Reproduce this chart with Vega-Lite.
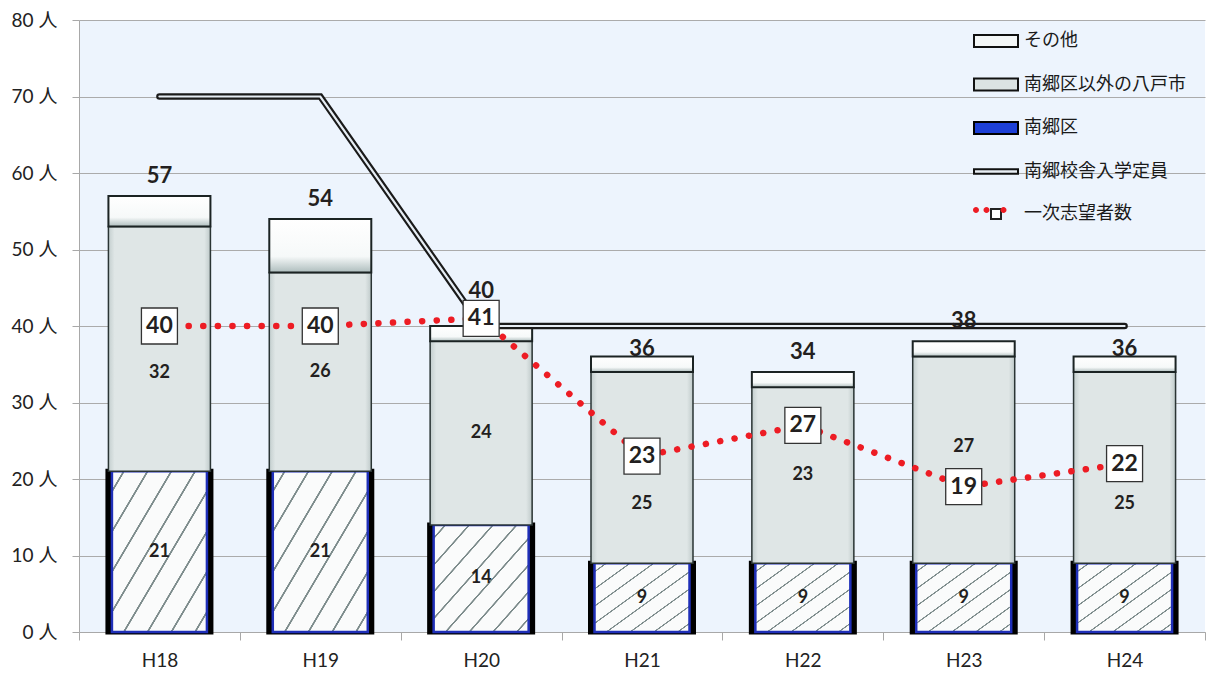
{
  "$schema": "https://vega.github.io/schema/vega-lite/v6.json",
  "width": 1126,
  "height": 612,
  "autosize": "none",
  "padding": {"left": 79, "top": 20, "right": 1, "bottom": 41},
  "background": "#ffffff",
  "config": {"view": {"fill": "#edf4fd", "stroke": null}, "font": "Lato", "text": {"font": "Lato"}},
  "datasets": {
    "seg": [
      {"year": "H18", "series": "南郷区", "k": 1, "value": 21},
      {"year": "H18", "series": "南郷区以外の八戸市", "k": 2, "value": 32},
      {"year": "H18", "series": "その他", "k": 3, "value": 4},
      {"year": "H19", "series": "南郷区", "k": 1, "value": 21},
      {"year": "H19", "series": "南郷区以外の八戸市", "k": 2, "value": 26},
      {"year": "H19", "series": "その他", "k": 3, "value": 7},
      {"year": "H20", "series": "南郷区", "k": 1, "value": 14},
      {"year": "H20", "series": "南郷区以外の八戸市", "k": 2, "value": 24},
      {"year": "H20", "series": "その他", "k": 3, "value": 2},
      {"year": "H21", "series": "南郷区", "k": 1, "value": 9},
      {"year": "H21", "series": "南郷区以外の八戸市", "k": 2, "value": 25},
      {"year": "H21", "series": "その他", "k": 3, "value": 2},
      {"year": "H22", "series": "南郷区", "k": 1, "value": 9},
      {"year": "H22", "series": "南郷区以外の八戸市", "k": 2, "value": 23},
      {"year": "H22", "series": "その他", "k": 3, "value": 2},
      {"year": "H23", "series": "南郷区", "k": 1, "value": 9},
      {"year": "H23", "series": "南郷区以外の八戸市", "k": 2, "value": 27},
      {"year": "H23", "series": "その他", "k": 3, "value": 2},
      {"year": "H24", "series": "南郷区", "k": 1, "value": 9},
      {"year": "H24", "series": "南郷区以外の八戸市", "k": 2, "value": 25},
      {"year": "H24", "series": "その他", "k": 3, "value": 2}
    ],
    "yr": [
      {"year": "H18", "total": 57, "capacity": 70, "applicants": 40},
      {"year": "H19", "total": 54, "capacity": 70, "applicants": 40},
      {"year": "H20", "total": 40, "capacity": 40, "applicants": 41},
      {"year": "H21", "total": 36, "capacity": 40, "applicants": 23},
      {"year": "H22", "total": 34, "capacity": 40, "applicants": 27},
      {"year": "H23", "total": 38, "capacity": 40, "applicants": 19},
      {"year": "H24", "total": 36, "capacity": 40, "applicants": 22}
    ]
  },
  "encoding": {
    "x": {
      "field": "year", "type": "nominal",
      "scale": {"domain": ["H18", "H19", "H20", "H21", "H22", "H23", "H24"], "paddingInner": 0, "paddingOuter": 0},
      "axis": {"title": null, "labelAngle": 0, "labelFont": "Lato", "labelFontSize": 19, "labelColor": "#222222", "labelPadding": 11, "tickBand": "extent", "tickSize": 8, "tickColor": "#a8a8a8", "domainColor": "#a8a8a8", "grid": false}
    }
  },
  "layer": [
    {
      "data": {"name": "seg"},
      "transform": [
        {"stack": "value", "groupby": ["year"], "sort": [{"field": "k", "order": "ascending"}], "as": ["y0", "y1"]},
        {"filter": "datum.k === 1"}
      ],
      "mark": {"type": "bar", "size": 103, "fill": "#000000", "stroke": "#000000", "strokeWidth": 5},
      "encoding": {
        "y": {
          "field": "y1", "type": "quantitative",
          "scale": {"domain": [0, 80], "nice": false, "zero": true},
          "axis": {"title": null, "values": [0, 10, 20, 30, 40, 50, 60, 70, 80], "labelExpr": "datum.label + ' 人'", "labelFont": "Lato, Noto Sans CJK JP", "labelFontSize": 19, "labelColor": "#222222", "labelPadding": 15, "tickSize": 7, "tickColor": "#a8a8a8", "domainColor": "#a8a8a8", "gridColor": "#ababab", "gridWidth": 1.2}
        },
        "y2": {"field": "y0"}
      }
    },
    {
      "data": {"name": "seg"},
      "transform": [
        {"stack": "value", "groupby": ["year"], "sort": [{"field": "k", "order": "ascending"}], "as": ["y0", "y1"]},
        {"filter": "datum.k === 1"}
      ],
      "mark": {
        "type": "bar", "size": 95, "stroke": "#1f2fb8", "strokeWidth": 2.5,
        "fill": {"gradient": "linear", "x1": 0, "y1": 0, "x2": 1, "y2": 1, "stops": [
          {"offset": 0, "color": "#fafbfb"},
          {"offset": 0.0555, "color": "#fafbfb"}, {"offset": 0.0585, "color": "#7d8c8c"}, {"offset": 0.0665, "color": "#7d8c8c"}, {"offset": 0.0695, "color": "#fafbfb"},
          {"offset": 0.1805, "color": "#fafbfb"}, {"offset": 0.1835, "color": "#7d8c8c"}, {"offset": 0.1915, "color": "#7d8c8c"}, {"offset": 0.1945, "color": "#fafbfb"},
          {"offset": 0.3055, "color": "#fafbfb"}, {"offset": 0.3085, "color": "#7d8c8c"}, {"offset": 0.3165, "color": "#7d8c8c"}, {"offset": 0.3195, "color": "#fafbfb"},
          {"offset": 0.4305, "color": "#fafbfb"}, {"offset": 0.4335, "color": "#7d8c8c"}, {"offset": 0.4415, "color": "#7d8c8c"}, {"offset": 0.4445, "color": "#fafbfb"},
          {"offset": 0.5555, "color": "#fafbfb"}, {"offset": 0.5585, "color": "#7d8c8c"}, {"offset": 0.5665, "color": "#7d8c8c"}, {"offset": 0.5695, "color": "#fafbfb"},
          {"offset": 0.6805, "color": "#fafbfb"}, {"offset": 0.6835, "color": "#7d8c8c"}, {"offset": 0.6915, "color": "#7d8c8c"}, {"offset": 0.6945, "color": "#fafbfb"},
          {"offset": 0.8055, "color": "#fafbfb"}, {"offset": 0.8085, "color": "#7d8c8c"}, {"offset": 0.8165, "color": "#7d8c8c"}, {"offset": 0.8195, "color": "#fafbfb"},
          {"offset": 0.9305, "color": "#fafbfb"}, {"offset": 0.9335, "color": "#7d8c8c"}, {"offset": 0.9415, "color": "#7d8c8c"}, {"offset": 0.9445, "color": "#fafbfb"},
          {"offset": 1, "color": "#fafbfb"}
        ]}
      },
      "encoding": {
        "y": {"field": "y1", "type": "quantitative"},
        "y2": {"field": "y0"}
      }
    },
    {
      "data": {"name": "seg"},
      "transform": [
        {"stack": "value", "groupby": ["year"], "sort": [{"field": "k", "order": "ascending"}], "as": ["y0", "y1"]},
        {"filter": "datum.k === 2"}
      ],
      "mark": {
        "type": "bar", "size": 102, "stroke": "#2a3434", "strokeWidth": 1.5,
        "fill": {"gradient": "linear", "x1": 0, "y1": 0, "x2": 1, "y2": 0, "stops": [
          {"offset": 0, "color": "#c3cece"}, {"offset": 0.06, "color": "#dfe6e6"}, {"offset": 0.94, "color": "#dfe6e6"}, {"offset": 1, "color": "#bfcaca"}
        ]}
      },
      "encoding": {
        "y": {"field": "y1", "type": "quantitative"},
        "y2": {"field": "y0"}
      }
    },
    {
      "data": {"name": "seg"},
      "transform": [
        {"stack": "value", "groupby": ["year"], "sort": [{"field": "k", "order": "ascending"}], "as": ["y0", "y1"]},
        {"filter": "datum.k === 3"}
      ],
      "mark": {
        "type": "bar", "size": 102, "stroke": "#1b2323", "strokeWidth": 2,
        "fill": {"gradient": "linear", "x1": 0, "y1": 0, "x2": 0, "y2": 1, "stops": [
          {"offset": 0, "color": "#ffffff"}, {"offset": 0.7, "color": "#f6f9f9"}, {"offset": 1, "color": "#aebdbd"}
        ]}
      },
      "encoding": {
        "y": {"field": "y1", "type": "quantitative"},
        "y2": {"field": "y0"}
      }
    },
    {
      "data": {"name": "seg"},
      "mark": {"type": "text", "fontSize": 18, "fontWeight": "bold", "color": "#231f20", "baseline": "middle"},
      "encoding": {
        "y": {"field": "value", "type": "quantitative", "stack": "zero", "bandPosition": 0.5},
        "detail": {"field": "series"},
        "order": {"field": "k"},
        "text": {"field": "value"},
        "opacity": {"condition": {"test": "datum.series === '南郷区' || (datum.series === '南郷区以外の八戸市' && indexof(['H18','H21','H23','H24'], datum.year) < 0)", "value": 1}, "value": 0}
      }
    },
    {
      "data": {"name": "seg"},
      "transform": [{"filter": "datum.year === 'H18'"}],
      "mark": {"type": "text", "fontSize": 18, "fontWeight": "bold", "color": "#231f20", "baseline": "middle"},
      "encoding": {
        "y": {"field": "value", "type": "quantitative", "stack": "zero", "bandPosition": 0.4},
        "detail": {"field": "series"},
        "order": {"field": "k"},
        "text": {"field": "value"},
        "opacity": {"condition": {"test": "datum.series === '南郷区以外の八戸市'", "value": 1}, "value": 0}
      }
    },
    {
      "data": {"name": "seg"},
      "transform": [{"filter": "datum.year === 'H21' || datum.year === 'H24'"}],
      "mark": {"type": "text", "fontSize": 18, "fontWeight": "bold", "color": "#231f20", "baseline": "middle"},
      "encoding": {
        "y": {"field": "value", "type": "quantitative", "stack": "zero", "bandPosition": 0.31},
        "detail": {"field": "series"},
        "order": {"field": "k"},
        "text": {"field": "value"},
        "opacity": {"condition": {"test": "datum.series === '南郷区以外の八戸市'", "value": 1}, "value": 0}
      }
    },
    {
      "data": {"name": "seg"},
      "transform": [{"filter": "datum.year === 'H23'"}],
      "mark": {"type": "text", "fontSize": 18, "fontWeight": "bold", "color": "#231f20", "baseline": "middle"},
      "encoding": {
        "y": {"field": "value", "type": "quantitative", "stack": "zero", "bandPosition": 0.56},
        "detail": {"field": "series"},
        "order": {"field": "k"},
        "text": {"field": "value"},
        "opacity": {"condition": {"test": "datum.series === '南郷区以外の八戸市'", "value": 1}, "value": 0}
      }
    },
    {
      "data": {"name": "yr"},
      "mark": {"type": "line", "color": "#1a1a1a", "strokeWidth": 6.5, "strokeCap": "round", "strokeJoin": "miter"},
      "encoding": {"y": {"field": "capacity", "type": "quantitative"}}
    },
    {
      "data": {"name": "yr"},
      "mark": {"type": "line", "color": "#e6edf4", "strokeWidth": 2.2, "strokeCap": "round", "strokeJoin": "miter"},
      "encoding": {"y": {"field": "capacity", "type": "quantitative"}}
    },
    {
      "data": {"name": "yr"},
      "mark": {"type": "line", "color": "#ed1c24", "strokeWidth": 6.5, "strokeCap": "round", "strokeDash": [0.1, 14.5]},
      "encoding": {"y": {"field": "applicants", "type": "quantitative"}}
    },
    {
      "data": {"name": "yr"},
      "mark": {"type": "point", "shape": "square", "size": 1296, "filled": true, "fill": "#ffffff", "stroke": "#333333", "strokeWidth": 1.3, "opacity": 1},
      "encoding": {"y": {"field": "applicants", "type": "quantitative"}}
    },
    {
      "data": {"name": "yr"},
      "mark": {"type": "text", "fontSize": 23, "fontWeight": "bold", "color": "#231f20", "baseline": "middle"},
      "encoding": {
        "y": {"field": "applicants", "type": "quantitative"},
        "text": {"field": "applicants"}
      }
    },
    {
      "data": {"name": "yr"},
      "transform": [{"filter": "indexof(['H18','H19','H22','H23'], datum.year) >= 0"}],
      "mark": {"type": "text", "fontSize": 22, "fontWeight": "bold", "color": "#231f20", "baseline": "alphabetic", "dy": -13},
      "encoding": {
        "y": {"field": "total", "type": "quantitative"},
        "text": {"field": "total"}
      }
    },
    {
      "data": {"name": "yr"},
      "transform": [{"filter": "datum.year === 'H20'"}],
      "mark": {"type": "text", "fontSize": 22, "fontWeight": "bold", "color": "#231f20", "baseline": "alphabetic", "dy": -28},
      "encoding": {
        "y": {"field": "total", "type": "quantitative"},
        "text": {"field": "total"}
      }
    },
    {
      "data": {"name": "yr"},
      "transform": [{"filter": "datum.year === 'H21' || datum.year === 'H24'"}],
      "mark": {"type": "text", "fontSize": 22, "fontWeight": "bold", "color": "#231f20", "baseline": "alphabetic", "dy": -1},
      "encoding": {
        "y": {"field": "total", "type": "quantitative"},
        "text": {"field": "total"}
      }
    },
    {
      "data": {"name": "seg"},
      "mark": {"type": "point", "size": 0, "filled": true, "opacity": 1, "strokeWidth": 2},
      "encoding": {
        "y": {"field": "value", "type": "quantitative"},
        "color": {
          "field": "series", "type": "nominal",
          "scale": {
            "domain": ["その他", "南郷区以外の八戸市", "南郷区", "南郷校舎入学定員", "一次志望者数"],
            "range": ["#f4f7f7", "#dbe3e3", "#1d3fd6", "#e8eef4", "#ffffff"]
          },
          "legend": {
            "orient": "none", "legendX": 906, "legendY": 10, "title": null, "padding": 0,
            "symbolSize": 400, "rowPadding": 22.5, "labelOffset": 17, "labelLimit": 400,
            "labelFont": "Noto Sans CJK JP", "labelFontSize": 18, "labelColor": "#1a1a1a",
            "symbolStrokeWidth": 2, "symbolOpacity": 1
          }
        },
        "stroke": {
          "field": "series", "type": "nominal",
          "scale": {
            "domain": ["その他", "南郷区以外の八戸市", "南郷区", "南郷校舎入学定員", "一次志望者数"],
            "range": ["#111111", "#111111", "#000000", "#111111", "#222222"]
          },
          "legend": {
            "orient": "none", "legendX": 906, "legendY": 10, "title": null, "padding": 0,
            "symbolSize": 400, "rowPadding": 22.5, "labelOffset": 17, "labelLimit": 400,
            "labelFont": "Noto Sans CJK JP", "labelFontSize": 18, "labelColor": "#1a1a1a",
            "symbolStrokeWidth": 2, "symbolOpacity": 1
          }
        },
        "shape": {
          "field": "series", "type": "nominal",
          "scale": {
            "domain": ["その他", "南郷区以外の八戸市", "南郷区", "南郷校舎入学定員", "一次志望者数"],
            "range": ["M-2.2,-0.6H2.2V0.6H-2.2Z", "M-2.2,-0.6H2.2V0.6H-2.2Z", "M-2.2,-0.6H2.2V0.6H-2.2Z", "M-2.2,-0.22H2.2V0.22H-2.2Z", "M-0.5,-0.5H0.5V0.5H-0.5Z"]
          },
          "legend": {
            "orient": "none", "legendX": 906, "legendY": 10, "title": null, "padding": 0,
            "symbolSize": 400, "rowPadding": 22.5, "labelOffset": 17, "labelLimit": 400,
            "labelFont": "Noto Sans CJK JP", "labelFontSize": 18, "labelColor": "#1a1a1a",
            "symbolStrokeWidth": 2, "symbolOpacity": 1
          }
        }
      }
    },
    {
      "data": {"name": "yr"},
      "mark": {"type": "point", "size": 0, "filled": true, "opacity": 1, "fill": "#ed1c24"},
      "encoding": {
        "y": {"field": "applicants", "type": "quantitative"},
        "strokeDash": {
          "datum": "一次志望者数", "type": "nominal",
          "legend": {
            "orient": "none", "legendX": 906, "legendY": 180, "title": null, "padding": 0,
            "symbolSize": 400, "rowPadding": 0, "labelOffset": 17, "labelExpr": "''", "labelLimit": 400,
            "labelFont": "Noto Sans CJK JP", "labelFontSize": 18,
            "symbolType": "M-2.2,0a0.3,0.3 0 1,0 0.6,0a0.3,0.3 0 1,0 -0.6,0Z M-1.15,0a0.3,0.3 0 1,0 0.6,0a0.3,0.3 0 1,0 -0.6,0Z M0.55,0a0.3,0.3 0 1,0 0.6,0a0.3,0.3 0 1,0 -0.6,0Z",
            "symbolFillColor": "#ed1c24", "symbolStrokeColor": "transparent", "symbolStrokeWidth": 0, "symbolOpacity": 1
          }
        }
      }
    }
  ]
}
